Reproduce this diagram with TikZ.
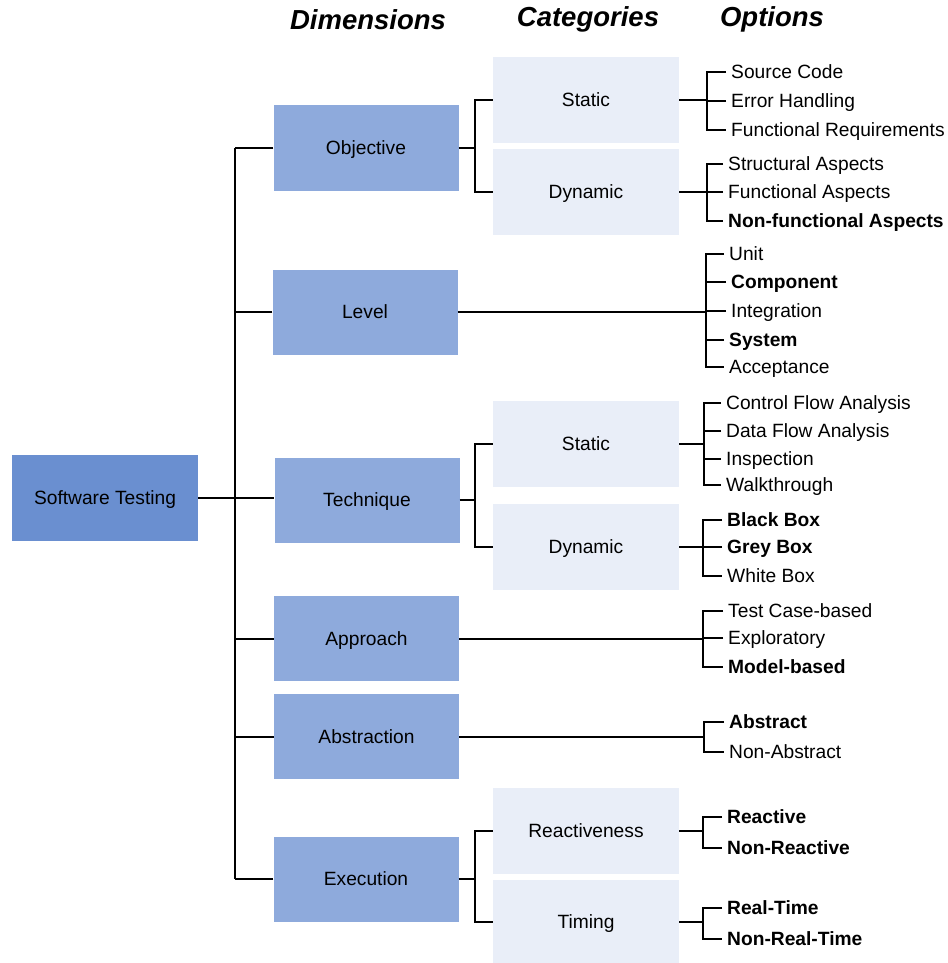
\documentclass[tikz,border=0pt]{standalone}
\usepackage{fontspec}
\setmainfont{Liberation Sans}
\definecolor{rootblue}{RGB}{106,143,208}
\definecolor{dimblue}{RGB}{142,170,220}
\definecolor{catblue}{RGB}{233,238,248}
\newcommand\bodyfs{\fontsize{19.2}{23}\selectfont}
\tikzset{
  anybox/.style={minimum height=86pt, inner sep=0pt, text height=13.8pt, text depth=0pt, font=\bodyfs},
  rootbox/.style={anybox, fill=rootblue, minimum width=186pt},
  dimbox/.style={anybox, fill=dimblue, minimum width=185pt, minimum height=85pt},
  catbox/.style={anybox, fill=catblue, minimum width=186pt},
  opt/.style={anchor=west, inner xsep=5pt, inner ysep=0pt, text height=13.8pt, text depth=0pt, font=\bodyfs},
  optb/.style={opt, font=\bodyfs\bfseries},
  head/.style={font=\fontsize{27.5}{32}\selectfont\bfseries\itshape},
  link/.style={line width=2pt, black}
}
\begin{document}
\begin{tikzpicture}[x=1pt,y=-1pt]
\useasboundingbox (0,0) rectangle (947,963);

% column headings
\node[head] (hdim) at (368,19.5) {Dimensions};
\node[head] (hcat) at (588,19.5) {Categories};
\node[head] (hopt) at (772,19.5) {Options};

% root and dimensions
\node[rootbox] (root) at (105,497.5) {Software Testing};
\node[dimbox] (obj)  at (366,148) {Objective};
\node[dimbox] (lvl)  at (365,312) {Level};
\node[dimbox] (tech) at (367,500) {Technique};
\node[dimbox] (appr) at (366.5,638.5) {Approach};
\node[dimbox] (abst) at (366.5,736.5) {Abstraction};
\node[dimbox] (exec) at (366,879) {Execution};

% categories
\node[catbox] (ostat) at (586,100) {Static};
\node[catbox] (odyn)  at (586,192) {Dynamic};
\node[catbox] (tstat) at (586,444) {Static};
\node[catbox] (tdyn)  at (586,546.5) {Dynamic};
\node[catbox] (react) at (586,831) {Reactiveness};
\node[catbox, minimum height=83pt] (timing) at (586,921.5) {Timing};

% trunk joining the root to every dimension
\coordinate (ttop) at (235,148);
\coordinate (tbot) at (235,879);
\draw[link] (ttop) -- (tbot);
\draw[link] (root.east) -- (root.east -| tech.west);
\foreach \d in {obj,lvl,appr,abst,exec}
  \draw[link] (\d.west) -- (\d.west -| ttop);

% dimension -> category brackets
\coordinate (cb) at (475,0);
\draw[link] (obj.east) -- (obj.east -| cb);
\draw[link] (ostat.west) -| (cb |- ostat.west) |- (odyn.west);
\draw[link] (tech.east) -- (tech.east -| cb);
\draw[link] (tstat.west) -| (cb |- tstat.west) |- (tdyn.west);
\draw[link] (exec.east) -- (exec.east -| cb);
\draw[link] (react.west) -| (cb |- react.west) |- (timing.west);

% options: Objective / Static
\node[opt] (o1a) at (726,72)  {Source Code};
\node[opt] (o1b) at (726,101) {Error Handling};
\node[opt] (o1c) at (726,130) {Functional Requirements};
\coordinate (b1) at (707,0);
\draw[link] (ostat.east) -- (ostat.east -| b1);
\draw[link] (o1a.west) -| (b1 |- o1c.west) -- (o1c.west);
\draw[link] (o1b.west) -- (o1b.west -| b1);

% options: Objective / Dynamic
\node[opt]  (o2a) at (723,164) {Structural Aspects};
\node[opt]  (o2b) at (723,192) {Functional Aspects};
\node[optb] (o2c) at (723,221) {Non-functional Aspects};
\coordinate (b2) at (707,0);
\draw[link] (odyn.east) -- (odyn.east -| b2);
\draw[link] (o2a.west) -| (b2 |- o2c.west) -- (o2c.west);
\draw[link] (o2b.west) -- (o2b.west -| b2);

% options: Level
\node[opt]  (o3a) at (724,254) {Unit};
\node[optb] (o3b) at (726,282) {Component};
\node[opt]  (o3c) at (726,311) {Integration};
\node[optb] (o3d) at (724,340) {System};
\node[opt]  (o3e) at (724,367) {Acceptance};
\coordinate (b3) at (706,0);
\draw[link] (lvl.east) -- (lvl.east -| b3);
\draw[link] (o3a.west) -| (b3 |- o3e.west) -- (o3e.west);
\foreach \o in {o3b,o3c,o3d}
  \draw[link] (\o.west) -- (\o.west -| b3);

% options: Technique / Static
\node[opt] (o4a) at (721,403) {Control Flow Analysis};
\node[opt] (o4b) at (721,431) {Data Flow Analysis};
\node[opt] (o4c) at (721,459) {Inspection};
\node[opt] (o4d) at (721,485) {Walkthrough};
\coordinate (b4) at (704,0);
\draw[link] (tstat.east) -- (tstat.east -| b4);
\draw[link] (o4a.west) -| (b4 |- o4d.west) -- (o4d.west);
\foreach \o in {o4b,o4c}
  \draw[link] (\o.west) -- (\o.west -| b4);

% options: Technique / Dynamic
\node[optb] (o5a) at (722,520) {Black Box};
\node[optb] (o5b) at (722,547) {Grey Box};
\node[opt]  (o5c) at (722,576) {White Box};
\coordinate (b5) at (703,0);
\draw[link] (tdyn.east) -- (tdyn.east -| b5);
\draw[link] (o5a.west) -| (b5 |- o5c.west) -- (o5c.west);
\draw[link] (o5b.west) -- (o5b.west -| b5);

% options: Approach
\node[opt]  (o6a) at (723,611) {Test Case-based};
\node[opt]  (o6b) at (723,638) {Exploratory};
\node[optb] (o6c) at (723,667) {Model-based};
\coordinate (b6) at (703,0);
\draw[link] (appr.east) -- (appr.east -| b6);
\draw[link] (o6a.west) -| (b6 |- o6c.west) -- (o6c.west);
\draw[link] (o6b.west) -- (o6b.west -| b6);

% options: Abstraction
\node[optb] (o7a) at (724,722) {Abstract};
\node[opt]  (o7b) at (724,752) {Non-Abstract};
\coordinate (b7) at (704,0);
\draw[link] (abst.east) -- (abst.east -| b7);
\draw[link] (o7a.west) -| (b7 |- o7b.west) -- (o7b.west);

% options: Execution / Reactiveness
\node[optb] (o8a) at (722,817) {Reactive};
\node[optb] (o8b) at (722,848) {Non-Reactive};
\coordinate (b8) at (703,0);
\draw[link] (react.east) -- (react.east -| b8);
\draw[link] (o8a.west) -| (b8 |- o8b.west) -- (o8b.west);

% options: Execution / Timing
\node[optb] (o9a) at (722,908) {Real-Time};
\node[optb] (o9b) at (722,939) {Non-Real-Time};
\coordinate (b9) at (703,0);
\draw[link] (timing.east) -- (timing.east -| b9);
\draw[link] (o9a.west) -| (b9 |- o9b.west) -- (o9b.west);
\end{tikzpicture}
\end{document}
